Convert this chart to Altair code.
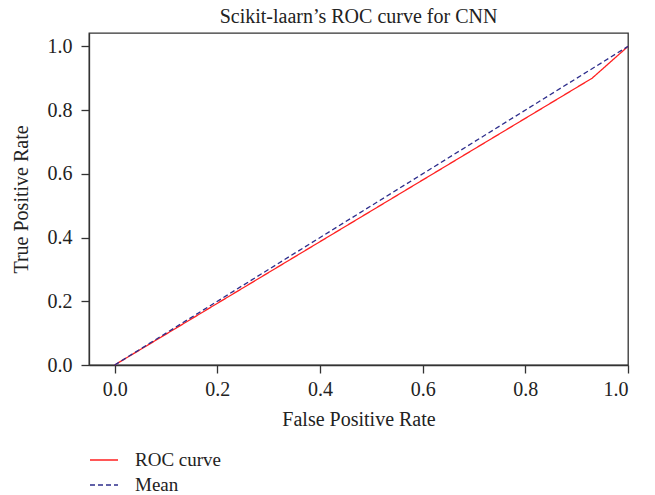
import altair as alt
import pandas as pd

roc_fpr = [0.0, 0.93, 1.0]
roc_tpr = [0.0, 0.90, 1.0]
mean_fpr = [0.0, 1.0]
mean_tpr = [0.0, 1.0]
series = ["ROC curve", "Mean"]
colors = ["#ff2020", "#2e2e8c"]
x_ticks = [0.0, 0.2, 0.4, 0.6, 0.8, 1.0]
y_ticks = [0.0, 0.2, 0.4, 0.6, 0.8, 1.0]

roc = pd.DataFrame({"fpr": roc_fpr, "tpr": roc_tpr, "series": series[0], "ord": range(len(roc_fpr))})
mean = pd.DataFrame({"fpr": mean_fpr, "tpr": mean_tpr, "series": series[1], "ord": range(len(mean_fpr))})

FONT = "Liberation Serif"

x = alt.X("fpr:Q", title="False Positive Rate",
          scale=alt.Scale(domain=[-0.05, 1.0], nice=False, zero=False),
          axis=alt.Axis(values=x_ticks, format=".1f", grid=False, tickSize=8,
                        labelPadding=6, titlePadding=10))
y = alt.Y("tpr:Q", title="True Positive Rate",
          scale=alt.Scale(domain=[0, 1.042], nice=False),
          axis=alt.Axis(values=y_ticks, format=".1f", grid=False, tickSize=8,
                        labelPadding=9, titlePadding=16))
color = alt.Color("series:N", scale=alt.Scale(domain=series, range=colors),
                  legend=alt.Legend(title=None, orient="none", legendX=0, legendY=412,
                                    symbolType="stroke", symbolSize=784, symbolStrokeWidth=1.3,
                                    labelFont=FONT, labelFontSize=19, labelColor="#222",
                                    rowPadding=0, labelOffset=16))
dash = alt.StrokeDash("series:N", scale=alt.Scale(domain=series, range=[[1, 0], [5, 3]]),
                      legend=None)

l1 = alt.Chart(roc).mark_line(strokeWidth=1.3).encode(x=x, y=y, color=color, strokeDash=dash, order="ord:O")
l2 = alt.Chart(mean).mark_line(strokeWidth=1.3).encode(x=x, y=y, color=color, strokeDash=dash, order="ord:O")

chart = alt.layer(l1, l2).properties(
    width=539, height=332,
    title=alt.Title("Scikit-laarn\u2019s ROC curve for CNN", font=FONT, fontSize=20,
                    fontWeight="normal", color="#222", offset=6),
    autosize=alt.AutoSizeParams(type="none"),
    padding={"left": 89, "top": 33, "right": 27, "bottom": 130},
).configure_view(stroke="#333", strokeWidth=1.3).configure_axis(
    labelFont=FONT, titleFont=FONT, labelFontSize=20, titleFontSize=20,
    titleFontWeight="normal", labelColor="#222", titleColor="#222",
    domainColor="#333", tickColor="#333", domainWidth=1.3, tickWidth=1.3,
)

chart.save("out.html", embed_options={"renderer": "svg", "actions": False})
